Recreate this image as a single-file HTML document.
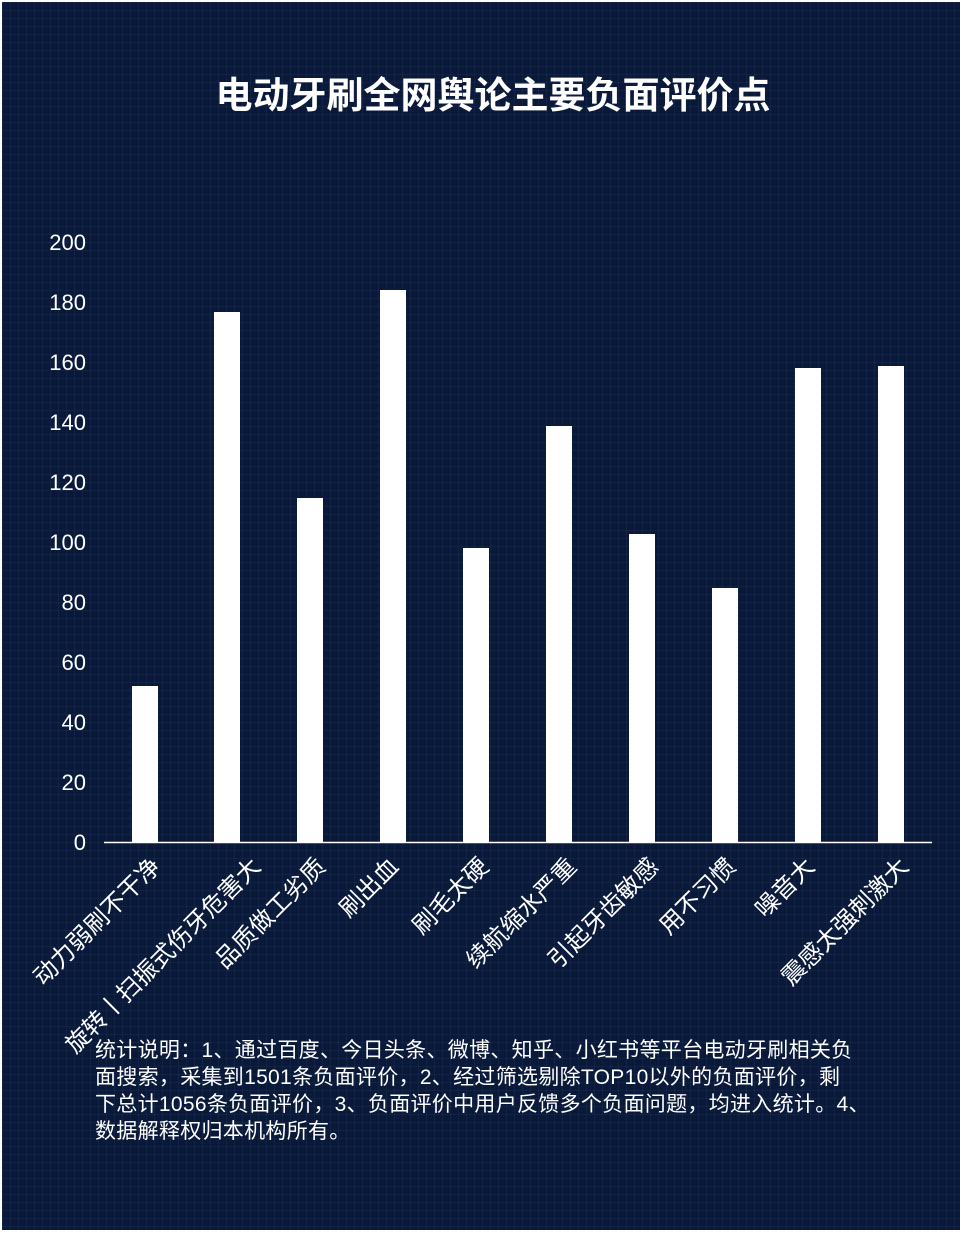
<!DOCTYPE html>
<html><head><meta charset="utf-8"><style>
body{margin:0;width:964px;height:1248px;overflow:hidden;background:#fff}
.bg{position:absolute;left:2px;top:2px;width:958px;height:1228px;background-color:#0a1938;
background-image:linear-gradient(rgba(60,90,140,0.14) 1px,transparent 1px),linear-gradient(90deg,rgba(60,90,140,0.14) 1px,transparent 1px);background-size:8px 8px}
svg{position:absolute;left:0;top:0}
.note{position:absolute;left:95px;top:1037px;width:840px;color:#fff;font:21px/27px "Liberation Sans","Noto Sans CJK SC",sans-serif;white-space:nowrap;letter-spacing:0.3px}
</style></head><body>
<div class="bg"></div>
<svg width="964" height="1248" font-family="Liberation Sans, Noto Sans CJK SC, sans-serif">
<text x="493" y="108" fill="#fff" font-size="37" font-weight="bold" text-anchor="middle">电动牙刷全网舆论主要负面评价点</text>
<g fill="#fff" font-size="22" text-anchor="end">
<text x="86" y="850">0</text><text x="86" y="790">20</text><text x="86" y="730">40</text><text x="86" y="670">60</text><text x="86" y="610">80</text><text x="86" y="550">100</text><text x="86" y="490">120</text><text x="86" y="430">140</text><text x="86" y="370">160</text><text x="86" y="310">180</text><text x="86" y="250">200</text>
</g>
<line x1="104" y1="842.5" x2="932" y2="842.5" stroke="#fff" stroke-width="1.5"/>
<g fill="#fff">
<rect x="132" y="686" width="26" height="156"/>
<rect x="214" y="312" width="26" height="530"/>
<rect x="297" y="498" width="26" height="344"/>
<rect x="380" y="290" width="26" height="552"/>
<rect x="463" y="548" width="26" height="294"/>
<rect x="546" y="426" width="26" height="416"/>
<rect x="629" y="534" width="26" height="308"/>
<rect x="712" y="588" width="26" height="254"/>
<rect x="795" y="368" width="26" height="474"/>
<rect x="878" y="366" width="26" height="476"/>
</g>
<g fill="#fff" font-size="24" text-anchor="end">
<text transform="translate(162,868) rotate(-45)">动力弱刷不干净</text>
<text transform="translate(262,868) rotate(-45)">旋转丨扫振式伤牙危害大</text>
<text transform="translate(327,868) rotate(-45)">品质做工劣质</text>
<text transform="translate(400,868) rotate(-45)">刷出血</text>
<text transform="translate(490,868) rotate(-45)">刷毛太硬</text>
<text transform="translate(578,868) rotate(-45)">续航缩水严重</text>
<text transform="translate(660,868) rotate(-45)">引起牙齿敏感</text>
<text transform="translate(737,868) rotate(-45)">用不习惯</text>
<text transform="translate(816,868) rotate(-45)">噪音大</text>
<text transform="translate(910,868) rotate(-45)">震感太强刺激大</text>
</g>
</svg>
<div class="note">统计说明：1、通过百度、今日头条、微博、知乎、小红书等平台电动牙刷相关负<br>面搜索，采集到1501条负面评价，2、经过筛选剔除TOP10以外的负面评价，剩<br>下总计1056条负面评价，3、负面评价中用户反馈多个负面问题，均进入统计。4、<br>数据解释权归本机构所有。</div>
</body></html>
